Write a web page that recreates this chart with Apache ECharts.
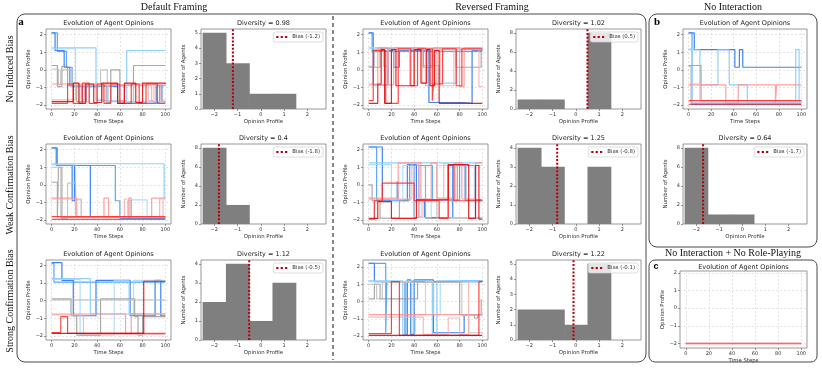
<!DOCTYPE html>
<html>
<head>
<meta charset="utf-8">
<title>Evolution of Agent Opinions</title>
<script src="https://cdn.jsdelivr.net/npm/echarts@6/dist/echarts.min.js"></script>
<style>
html, body { margin: 0; padding: 0; background: #fff; }
#chart { width: 822px; height: 368px; }
</style>
</head>
<body>
<div id="chart"></div>
<script>
// ---- data ----
const timeTicks = [0, 20, 40, 60, 80, 100];
const opinionTicks = [-2, -1, 0, 1, 2];
const histBins = [-2, -1, 0, 1, 2];

// agent order: blue, blue, light blue, light blue, gray, gray, pink, pink, red, red
const agentColors = ['#1a6ff0', '#3a98ff', '#7cc8f8', '#a3d8fa', '#9a9a9a', '#bdbdbd', '#ff9090', '#f6adad', '#ff2626', '#e00000'];

// each agent: t, opinion, t, opinion ... (step changes)
const defaultNoBias = [
  [0,2.1, 3,1.1, 11,0.15, 16,-0.9, 27,-1.8, 30,-0.9, 47,-0.95, 58,-1.9, 92,-0.9, 97,-1.8, 100,-1.8],
  [0,2.1, 5,1.05, 13,0.15, 18,-0.95, 38,-0.9, 56,-0.9, 64,-1.9, 88,-1.85, 95,-0.9, 100,-0.9],
  [0,1.25, 39,-1.75, 66,1.1, 100,1.1],
  [0,1.2, 21,-0.85, 24,-1.8, 33,-0.9, 50,-1.75, 60,-0.85, 72,-1.8, 100,-1.75],
  [0,0.25, 5,-0.95, 9,0.2, 14,-0.9, 22,-1.8, 30,-0.9, 48,-1.85, 52,0.0, 60,-0.9, 72,0.25, 100,0.25],
  [0,0.05, 6,-0.85, 8,0.0, 18,-0.9, 43,0.0, 49,-1.8, 72,-0.9, 88,-1.8, 100,-1.8],
  [0,-0.8, 26,-1.7, 29,-0.8, 54,-0.8, 58,-1.75, 64,-0.8, 100,-0.8],
  [0,-1.7, 21,-0.85, 40,-1.7, 45,-0.85, 85,-1.75, 90,-0.85, 96,-1.7, 100,-1.7],
  [0,-1.9, 14,-0.8, 19,-1.9, 27,-0.75, 33,-1.9, 40,-0.8, 46,-1.9, 52,-0.8, 60,-1.9, 70,-0.8, 77,-1.9, 83,-0.8, 93,-1.9, 100,-1.9],
  [0,-1.8, 19,-0.75, 24,-1.9, 30,-0.8, 37,-1.85, 44,-0.75, 58,-1.9, 64,-0.75, 74,-1.85, 80,-0.75, 100,-0.8]
];
const defaultWeak = [
  [0,2.1, 4,1.1, 18,-0.9, 20,1.1, 34,-1.85, 100,-1.85],
  [0,2.1, 5,1.1, 56,-0.9, 60,-1.9, 100,-1.9],
  [0,1.2, 99,-0.8, 100,-0.8],
  [0,1.15, 21,-0.85, 26,-1.8, 70,-0.85, 84,-1.8, 100,-1.8],
  [0,0.15, 5,-1.85, 6,1.0, 9,-1.85, 100,-1.85],
  [0,1.0, 8,-1.9, 14,0.1, 21,-1.85, 67,-0.9, 70,-1.85, 100,-1.85],
  [0,-0.75, 22,-1.8, 46,-0.75, 50,-1.8, 68,-0.75, 70,-1.8, 88,-0.75, 100,-0.75],
  [0,-0.8, 26,-1.8, 64,-0.8, 68,-1.8, 95,-0.8, 98,-1.8, 100,-1.8],
  [0,-1.8, 100,-1.8],
  [0,-1.95, 100,-1.95]
];
const defaultStrong = [
  [0,2.15, 9,1.15, 19,-0.85, 39,1.15, 69,-0.85, 91,1.15, 96,-0.85, 100,-0.85],
  [0,2.1, 2,1.05, 100,1.05],
  [0,1.25, 34,-0.75, 100,-0.75],
  [0,1.2, 25,-1.95, 55,1.15, 68,-0.75, 72,1.15, 100,1.15],
  [0,0.1, 17,-0.85, 22,-1.95, 43,0.1, 73,-0.9, 76,-1.95, 80,-0.9, 100,-0.9],
  [0,0.05, 100,0.05],
  [0,-0.75, 65,-1.9, 70,-0.75, 100,-0.75],
  [0,-0.8, 28,-1.9, 100,-1.9],
  [0,-1.8, 8,-0.9, 14,-1.85, 100,-1.85],
  [0,-1.85, 81,1.1, 100,1.1]
];
const reversedNoBias = [
  [0,2.1, 4,-0.85, 17,1.1, 22,0.15, 27,1.1, 53,-1.85, 85,-1.9, 91,1.1, 100,1.1],
  [0,2.1, 3,1.05, 100,1.05],
  [0,1.25, 48,0.25, 62,-0.75, 77,1.2, 100,1.2],
  [0,1.25, 100,1.25],
  [0,0.15, 10,1.2, 48,0.15, 56,1.2, 77,0.15, 99,1.15, 100,1.15],
  [0,0.2, 5,1.15, 13,0.2, 17,1.15, 100,1.15],
  [0,-0.8, 8,1.25, 17,-0.85, 22,1.25, 50,-0.9, 57,1.25, 80,-0.95, 84,1.25, 100,1.25],
  [0,-0.85, 20,1.2, 36,-0.9, 40,1.2, 47,-0.75, 60,1.25, 63,-0.9, 75,1.2, 97,-0.95, 100,-0.95],
  [0,-1.75, 4,1.1, 15,-1.9, 26,1.2, 37,-0.9, 43,1.2, 56,-1.75, 57,-0.8, 65,1.2, 77,-0.9, 82,1.2, 100,1.2],
  [0,-1.9, 8,-0.8, 11,1.15, 14,-1.9, 20,1.15, 24,-0.9, 40,1.15, 46,-0.75, 51,1.15, 54,-0.9, 58,1.1, 62,-1.9, 100,-1.9]
];
const reversedWeak = [
  [0,2.15, 12,-0.9, 34,1.15, 42,-0.85, 49,-1.85, 74,1.15, 85,-0.85, 100,-0.85],
  [0,2.15, 7,-0.85, 25,0.2, 26,-0.85, 36,1.15, 40,-1.85, 44,1.1, 56,-0.85, 80,1.1, 94,-1.9, 100,-1.9],
  [0,1.25, 100,1.25],
  [0,1.15, 20,-0.85, 30,1.1, 45,-1.85, 55,-0.85, 60,1.1, 86,-0.85, 93,1.1, 100,1.1],
  [0,0.0, 3,-0.9, 10,-1.9, 27,-0.9, 36,1.1, 50,-1.9, 70,-0.9, 78,1.1, 85,-0.9, 100,-0.9],
  [0,-0.8, 5,-1.9, 40,-0.9, 60,-1.9, 100,-1.9],
  [0,-0.75, 26,1.25, 46,-0.8, 55,1.25, 60,-0.75, 76,1.25, 82,-0.8, 94,1.25, 100,1.25],
  [0,-0.8, 38,1.2, 44,-1.8, 47,-0.85, 66,1.2, 70,-1.85, 100,-1.85],
  [0,-1.95, 5,-0.9, 12,0.1, 40,-0.9, 62,-1.9, 70,1.1, 75,-0.9, 100,-0.9],
  [0,-1.9, 8,-0.95, 20,-1.9, 42,-0.85, 70,1.15, 88,-1.9, 94,1.1, 97,-1.95, 100,-1.95]
];
const reversedStrong = [
  [0,2.2, 5,1.15, 32,-1.9, 34,1.25, 37,-1.9, 40,1.25, 57,-1.8, 84,-0.75, 100,-0.75],
  [0,2.2, 15,-1.8, 16,1.15, 56,1.2, 100,1.15],
  [0,1.2, 30,-1.9, 33,1.2, 56,-1.9, 60,1.2, 100,1.2],
  [0,1.15, 38,-1.8, 41,-0.75, 50,1.15, 57,-0.75, 63,1.1, 100,1.1],
  [0,0.15, 5,1.0, 10,0.15, 43,1.1, 80,-0.75, 93,-0.95, 96,-0.75, 99,0.1, 100,0.1],
  [0,1.0, 7,0.15, 12,1.1, 82,-0.8, 88,-1.8, 100,-1.85],
  [0,-0.75, 100,-0.75],
  [0,-0.9, 48,-1.9, 70,-0.95, 80,-1.9, 88,1.15, 100,1.15],
  [0,-1.85, 20,1.15, 27,-1.95, 97,1.15, 100,1.15],
  [0,-1.95, 100,-1.95]
];
const noInteraction = [
  [0,2.1, 5,1.15, 41,0.15, 45,1.15, 48,0.15, 100,0.15],
  [0,2.1, 3,-1.95, 100,-1.95],
  [0,1.15, 10,-0.85, 26,1.15, 36,-0.85, 52,-1.85, 95,1.15, 98,-1.85, 100,-1.85],
  [0,1.2, 3,-1.85, 100,-1.85],
  [0,0.25, 11,-1.75, 100,-1.75],
  [0,0.2, 2,-1.9, 100,-1.9],
  [0,-0.85, 33,-1.9, 44,-0.85, 77,-1.9, 78,-0.85, 100,-0.85],
  [0,-0.8, 10,-1.75, 100,-1.75],
  [0,-1.75, 100,-1.75],
  [0,-1.95, 100,-1.95]
];
const noRolePlaying = [
  [0,-2.0, 100,-2.0],
  [0,-1.98, 100,-1.98]
];
const noRolePlayingColors = ['#ff2626', '#ff7a7a'];

const countsDefaultNoBias = [5, 3, 1, 1, 0];
const countsDefaultWeak = [8, 2, 0, 0, 0];
const countsDefaultStrong = [2, 4, 1, 3, 0];
const countsReversedNoBias = [1, 1, 0, 8, 0];
const countsReversedWeak = [4, 3, 0, 3, 0];
const countsReversedStrong = [2, 2, 1, 5, 0];
const countsNoInteraction = [8, 1, 1, 0, 0];

const biasDefault = [-1.2, -1.8, -0.5];
const biasReversed = [0.5, -0.8, -0.1];
const biasNoInteraction = -1.7;
const diversityDefault = ['0.98', '0.4', '1.12'];
const diversityReversed = ['1.02', '1.25', '1.22'];
const diversityNoInteraction = '0.64';

// ---- chart building ----
const W = 822;
const sans = 'DejaVu Sans';
const serif = 'Liberation Serif';
const biasColor = '#b3000c';
const dotsIcon = 'path://M0,0h2v2h-2z M4,0h2v2h-2z M8,0h2v2h-2z';

const grids = [], xAxes = [], yAxes = [], series = [], legends = [], texts = [];

function fmt(v) { return v < 0 ? '\u2212' + (-v) : String(v); }

function makeGrid(box) {
  grids.push({
    left: box[0], top: box[1], width: box[2], height: box[3],
    show: true, borderColor: '#7d7d7d', borderWidth: 0.8
  });
  return grids.length - 1;
}

// fresh option objects for every axis
function valueAxis(i, min, max, ticks, step, grid) {
  const ax = {
    gridIndex: i, type: 'value', min: min, max: max,
    axisLine: { show: false, onZero: false },
    axisTick: { show: true, length: 2, lineStyle: { color: '#555', width: 0.6 } },
    axisLabel: { fontSize: 5, color: '#333', fontFamily: sans, formatter: fmt, margin: 3 },
    splitLine: grid ? { show: true, lineStyle: { color: '#d2d2d2', width: 0.6, type: [2, 2] } } : { show: false }
  };
  if (ticks) {
    ax.axisTick.customValues = ticks;
    ax.axisLabel.customValues = ticks;
  } else {
    ax.interval = step;
    ax.axisLabel.showMaxLabel = false;
  }
  return ax;
}

function addText(x, y, text, size, rot) {
  texts.push({
    type: 'text', x: x, y: y, rotation: rot || 0,
    style: { text: text, fontSize: size, fontFamily: sans, fill: size > 6 ? '#222' : '#333', align: 'center', verticalAlign: 'middle' }
  });
}

function axisNames(box, xName, yName) {
  addText(box[0] + box[2] / 2, box[1] + box[3] + 13, xName, 5.4);
  addText(box[0] - 17, box[1] + box[3] / 2, yName, 5.4, Math.PI / 2);
}

function linePanel(box, agents, colors, yMin, yMax, titleShift) {
  const i = makeGrid(box);
  xAxes.push(valueAxis(i, -5, 105, timeTicks, 0, true));
  yAxes.push(valueAxis(i, yMin, yMax, opinionTicks, 0, true));
  agents.forEach((flat, k) => {
    const pts = [];
    for (let j = 0; j < flat.length; j += 2) pts.push([flat[j], flat[j + 1]]);
    series.push({
      type: 'line', step: 'end', xAxisIndex: i, yAxisIndex: i, data: pts,
      symbol: 'none', silent: true, z: 2,
      lineStyle: { color: colors[k], width: 1.2, opacity: 0.85 }
    });
  });
  addText(box[0] + box[2] / 2, box[1] - 6 + (titleShift || 0), 'Evolution of Agent Opinions', 6.5);
  axisNames(box, 'Time Steps', 'Opinion Profile');
}

function histPanel(box, counts, bias, diversity, yMax, yStep) {
  const i = makeGrid(box);
  xAxes.push(valueAxis(i, -2.57, 2.8, opinionTicks, 0, false));
  yAxes.push(valueAxis(i, 0, yMax, null, yStep, false));
  series.push({
    type: 'custom', xAxisIndex: i, yAxisIndex: i, silent: true, z: 2,
    data: histBins.map((b, k) => [b, counts[k]]),
    encode: { x: 0, y: 1 },
    renderItem: function (params, api) {
      const tl = api.coord([api.value(0) - 0.5, api.value(1)]);
      const br = api.coord([api.value(0) + 0.5, 0]);
      return { type: 'rect', shape: { x: tl[0], y: tl[1], width: br[0] - tl[0] + 0.6, height: br[1] - tl[1] }, style: { fill: '#7f7f7f' } };
    }
  });
  const name = 'Bias (' + bias + ')';
  series.push({
    type: 'line', name: name, xAxisIndex: i, yAxisIndex: i, silent: true, z: 4,
    data: [[bias, 0], [bias, yMax]], symbol: 'none', color: biasColor,
    lineStyle: { color: biasColor, width: 2, type: [2, 1.7] }
  });
  legends.push({
    data: [{ name: name, icon: dotsIcon }],
    right: W - (box[0] + box[2]) + 3, top: box[1] + 3,
    itemWidth: 11, itemHeight: 2.4, selectedMode: false,
    padding: [2.5, 3], backgroundColor: 'rgba(255,255,255,0.8)',
    borderColor: '#cfcfcf', borderWidth: 0.7, borderRadius: 2,
    textStyle: { fontSize: 5.4, color: '#333', fontFamily: sans }
  });
  addText(box[0] + box[2] / 2, box[1] - 6, 'Diversity = ' + diversity, 6.5);
  axisNames(box, 'Opinion Profile', 'Number of Agents');
}

const rowTops = [29, 144, 260];
const rowH = 80;
const defaultLines = [defaultNoBias, defaultWeak, defaultStrong];
const reversedLines = [reversedNoBias, reversedWeak, reversedStrong];
const defaultCounts = [countsDefaultNoBias, countsDefaultWeak, countsDefaultStrong];
const reversedCounts = [countsReversedNoBias, countsReversedWeak, countsReversedStrong];
const defaultHistMax = [[5.25, 1], [8.4, 2], [4.2, 1]];
const reversedHistMax = [[8.4, 2], [4.2, 1], [5.25, 1]];

for (let r = 0; r < 3; r++) {
  const top = rowTops[r];
  linePanel([46, top, 125, rowH], defaultLines[r], agentColors, -2.22, r === 2 ? 2.3 : 2.32);
  histPanel([201, top, 125, rowH], defaultCounts[r], biasDefault[r], diversityDefault[r], defaultHistMax[r][0], defaultHistMax[r][1]);
  linePanel([363, top, 125, rowH], reversedLines[r], agentColors, -2.22, r === 2 ? 2.4 : 2.32);
  histPanel([516, top, 125, rowH], reversedCounts[r], biasReversed[r], diversityReversed[r], reversedHistMax[r][0], reversedHistMax[r][1]);
}
linePanel([683, 29, 124, rowH], noInteraction, agentColors, -2.22, 2.32);
histPanel([683, 144, 124, rowH], countsNoInteraction, biasNoInteraction, diversityNoInteraction, 8.4, 2);
linePanel([680, 271, 127, 77], noRolePlaying, noRolePlayingColors, -2.25, 2.1, 2.5);

// frames, headers, row labels
function headText(x, y, text, rot) {
  texts.push({ type: 'text', x: x, y: y, rotation: rot || 0,
    style: { text: text, fontSize: 10, fontFamily: serif, fill: '#111', align: 'center', verticalAlign: 'middle' } });
}
headText(174, 7, 'Default Framing');
headText(492, 7, 'Reversed Framing');
headText(733, 7, 'No Interaction');
headText(733, 253, 'No Interaction + No Role-Playing');
headText(10, 69, 'No Induced Bias', Math.PI / 2);
headText(10, 185, 'Weak Confirmation Bias', Math.PI / 2);
headText(10, 301, 'Strong Confirmation Bias', Math.PI / 2);

texts.push({ type: 'text', x: 21, y: 22, style: { text: 'a', fontSize: 11, fontWeight: 'bold', fontFamily: serif, fill: '#000', align: 'center', verticalAlign: 'middle' } });
texts.push({ type: 'text', x: 657, y: 22, style: { text: 'b', fontSize: 11, fontWeight: 'bold', fontFamily: serif, fill: '#000', align: 'center', verticalAlign: 'middle' } });
texts.push({ type: 'text', x: 656, y: 267, style: { text: 'c', fontSize: 9, fontWeight: 'bold', fontFamily: 'Liberation Sans', fill: '#000', align: 'center', verticalAlign: 'middle' } });

texts.push({ type: 'rect', shape: { x: 17, y: 14, width: 629, height: 348, r: 8 }, style: { fill: 'none', stroke: '#4a4a4a', lineWidth: 1 } });
texts.push({ type: 'rect', shape: { x: 649, y: 14, width: 168, height: 233, r: 8 }, style: { fill: 'none', stroke: '#4a4a4a', lineWidth: 1 } });
texts.push({ type: 'rect', shape: { x: 649, y: 260, width: 168, height: 102, r: 6 }, style: { fill: 'none', stroke: '#4a4a4a', lineWidth: 1 } });
texts.push({ type: 'line', shape: { x1: 333, y1: 16, x2: 333, y2: 360 }, style: { stroke: '#555', lineWidth: 1.4, lineDash: [4, 3] } });

const chart = echarts.init(document.getElementById('chart'));
chart.setOption({
  backgroundColor: '#fff',
  animation: false,
  grid: grids,
  xAxis: xAxes,
  yAxis: yAxes,
  legend: legends,
  series: series,
  graphic: { elements: texts }
});
</script>
</body>
</html>
